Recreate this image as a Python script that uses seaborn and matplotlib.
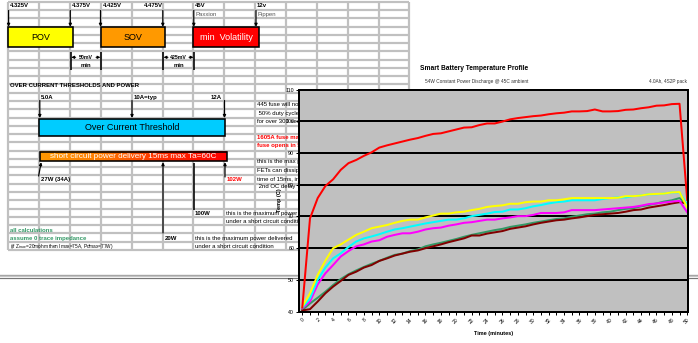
import numpy as np
import pandas as pd
import matplotlib
matplotlib.use("Agg")
import matplotlib.pyplot as plt
import seaborn as sns
from matplotlib.patches import Rectangle
from matplotlib.colors import LinearSegmentedColormap

# ---------------- data ----------------
minutes = list(range(51))
temp_red = [41.3, 69.4, 75.8, 79.6, 81.7, 84.7, 86.8, 87.8, 89.1, 90.2,
            91.7, 92.4, 93.0, 93.6, 94.2, 94.7, 95.4, 96.0, 96.2, 96.8,
            97.4, 98.0, 98.1, 98.8, 99.3, 99.3, 99.9, 100.6, 101.0, 101.3,
            101.6, 101.8, 102.2, 102.5, 102.7, 103.1, 103.1, 103.2, 103.7, 103.1,
            103.1, 103.2, 103.6, 103.7, 104.1, 104.4, 104.9, 105.0, 105.4, 105.5,
            75.2]
temp_yellow = [41.6, 45.8, 51.6, 56.1, 60.0, 61.2, 62.7, 64.2, 65.2, 66.3,
               66.8, 67.3, 68.0, 68.6, 69.0, 69.0, 69.7, 70.3, 70.9, 70.9,
               71.3, 71.5, 72.0, 72.4, 73.0, 73.3, 73.5, 74.0, 74.0, 74.5,
               74.7, 74.7, 75.1, 75.1, 75.4, 75.8, 75.8, 75.8, 75.8, 75.8,
               75.8, 75.9, 76.4, 76.4, 76.6, 77.0, 77.1, 77.2, 77.6, 77.7,
               72.8]
temp_cyan = [41.3, 44.2, 50.0, 53.9, 56.8, 58.4, 60.4, 62.1, 63.1, 63.7,
             64.4, 65.2, 65.9, 66.3, 66.8, 67.3, 67.8, 68.2, 68.6, 69.0,
             69.0, 69.4, 70.1, 70.5, 70.9, 71.4, 71.5, 72.2, 72.2, 72.6,
             73.2, 73.6, 74.1, 74.5, 74.7, 75.1, 75.1, 75.1, 75.1, 75.5,
             75.8, 76.0, 76.0, 76.4, 76.6, 77.0, 77.0, 77.2, 77.6, 77.6,
             73.6]
temp_magenta = [41.1, 43.2, 48.6, 52.1, 54.7, 57.4, 59.1, 60.6, 61.2, 62.1,
                62.5, 63.6, 64.2, 64.7, 64.7, 65.2, 65.9, 66.3, 66.5, 67.1,
                67.5, 68.0, 68.2, 68.6, 69.0, 69.0, 69.4, 69.7, 70.1, 70.1,
                70.5, 71.1, 71.1, 71.1, 71.3, 72.0, 72.0, 72.0, 72.0, 72.2,
                72.4, 72.6, 72.8, 73.0, 73.4, 73.9, 74.1, 74.4, 74.7, 74.9,
                71.3]
temp_green = [40.5, 42.6, 44.4, 46.3, 48.4, 50.3, 51.8, 53.0, 54.1, 55.1,
              56.0, 57.0, 57.9, 58.3, 59.1, 59.6, 60.6, 61.2, 61.7, 62.3,
              62.9, 63.6, 64.2, 64.7, 65.2, 65.7, 66.1, 66.7, 67.1, 67.5,
              68.0, 68.4, 68.8, 69.2, 69.4, 69.9, 70.3, 70.7, 70.9, 71.3,
              71.5, 72.0, 72.4, 72.6, 73.2, 73.6, 74.1, 74.7, 75.1, 75.8,
              73.6]
temp_maroon = [40.4, 40.8, 43.2, 45.8, 47.9, 49.7, 51.6, 52.6, 53.9, 54.7,
               56.0, 56.8, 57.7, 58.3, 58.9, 59.3, 60.0, 60.6, 61.2, 61.9,
               62.5, 63.1, 64.0, 64.0, 64.6, 65.0, 65.4, 66.1, 66.5, 66.9,
               67.5, 68.0, 68.4, 68.8, 69.0, 69.4, 69.7, 70.1, 70.5, 70.7,
               70.9, 71.1, 71.5, 72.0, 72.2, 72.8, 73.2, 73.6, 74.1, 74.5,
               74.1]
series_names = ["green", "maroon", "magenta", "cyan", "yellow", "red"]
series_colors = ["#339966", "#800000", "#ff00ff", "#00ffff", "#ffff00", "#ff0000"]
y_ticks = [40, 50, 60, 70, 80, 90, 100, 110]
x_tick_labels = [str(m) if m % 2 == 0 else "" for m in minutes]

chart_title = "Smart Battery Temperature Profile"
chart_subtitle = "54W Constant Power Discharge @ 45C ambient"
chart_pack = "4.0Ah, 4S2P pack"

# ---------------- figure ----------------
FONT = ["Liberation Sans", "DejaVu Sans"]
plt.rcParams["font.family"] = FONT
W, H = 698, 343
fig = plt.figure(figsize=(W / 100, H / 100), dpi=100)
fig.patch.set_facecolor("white")

bg = fig.add_axes([0, 0, 1, 1])
bg.set_axis_off()
PX = 0.72  # points per pixel

# spreadsheet grid
col_x = [8.3 + 30.85 * i for i in range(14)]
row_y = [1.8 + 8.27 * k for k in range(31)]
for x in col_x:
    bg.plot([x, x], [row_y[0], row_y[-1]], color="#c0c0c0", lw=2.2 * PX, zorder=1,
            solid_capstyle="butt")
for y in row_y:
    bg.plot([col_x[0], col_x[-1]], [y, y], color="#c0c0c0", lw=2.2 * PX, zorder=1,
            solid_capstyle="butt")

def rc(k):
    return 5.9 + 8.27 * k

def t(x, y, s, size=4.4, weight="normal", color="black", ha="left"):
    bg.text(x, y, s, fontsize=size, fontweight=weight, color=color, ha=ha,
            va="center", zorder=5)

def arrow(x0, y0, x1, y1, lw=1.2):
    bg.annotate("", xy=(x1, y1), xytext=(x0, y0),
                arrowprops=dict(arrowstyle="-|>", color="black", lw=lw * PX,
                                mutation_scale=4, shrinkA=0, shrinkB=0), zorder=6)

def vline(x, y0, y1, lw=1.6):
    bg.plot([x, x], [y0, y1], color="black", lw=lw * PX, zorder=6, solid_capstyle="butt")

# top voltage labels
t(9.5, rc(0), "4.325V", 4.3, "bold")
t(71.5, rc(0), "4.375V", 4.3, "bold")
t(102.5, rc(0), "4.425V", 4.3, "bold")
t(162.5, rc(0), "4.475V", 4.3, "bold", ha="right")
t(195.0, rc(0), "45V", 4.3, "bold")
t(257.0, rc(0), "12v", 4.3, "bold")
t(195.0, rc(1), "Paxxion", 4.3, color="#555555")
t(257.0, rc(1), "Pippen", 4.3, color="#555555")
for x in [8.6, 70.3, 100.5, 162.8, 193.8, 256.0]:
    arrow(x, 10.5, x, 26.8)

# boxes
def box(x0, x1, y0, y1, fc, label, tc="black", size=6.5):
    bg.add_patch(Rectangle((x0, y0), x1 - x0, y1 - y0, facecolor=fc, edgecolor="black",
                           lw=1.6 * PX, zorder=4))
    bg.text((x0 + x1) / 2, (y0 + y1) / 2 + 0.5, label, fontsize=size, color=tc,
            ha="center", va="center", zorder=5)

box(8.3, 72.7, 27.3, 46.7, "#ffff00", "POV")
box(101.0, 165.0, 27.3, 46.7, "#ff9900", "SOV")
box(193.3, 258.7, 27.3, 46.7, "#ff0000", "min  Volatility", tc="white")

# measurement arrows
for xa, xb, lab in [(70.7, 101.0, "50mV"), (163.0, 194.0, "425mV")]:
    vline(xa, 51.5, 70.0)
    vline(xb, 51.5, 70.0)
    arrow(xa + 5, 57.3, xa + 0.6, 57.3, lw=1.0)
    arrow(xb - 5, 57.3, xb - 0.6, 57.3, lw=1.0)
    t((xa + xb) / 2, 57.3, lab, 3.7, "bold", ha="center")
    t((xa + xb) / 2, 65.7, "min", 4.3, "bold", ha="center")

t(9.5, rc(9.6), "OVER CURRENT THRESHOLDS AND POWER", 4.3, "bold")
t(40.5, rc(11.1), "5.0A", 4.3, "bold")
t(134.0, rc(11.1), "10A=typ", 4.3, "bold")
t(222.0, rc(11.1), "12A", 4.3, "bold", ha="right")
for x in [39.8, 132.0, 224.5]:
    arrow(x, 100.5, x, 118.0)

box(39.3, 225.0, 119.3, 135.7, "#00ccff", "Over Current Threshold")

# short-circuit gradient box
grad_cmap = LinearSegmentedColormap.from_list("g", ["#ff9900", "#ff7a00", "#ff2a00", "#ff0000"])
bg.imshow(np.linspace(0, 1, 256).reshape(1, -1), cmap=grad_cmap, aspect="auto",
          extent=(40.0, 226.7, 161.0, 151.7), zorder=4)
bg.add_patch(Rectangle((40.0, 151.7), 186.7, 9.3, facecolor="none", edgecolor="black",
                       lw=1.6 * PX, zorder=4.5))
bg.text(133.3, 156.6, "short circuit power delivery 15ms max Ta=60C", fontsize=5.9,
        color="white", ha="center", va="center", zorder=5)

arrow(38.6, 176.0, 41.2, 162.2)
arrow(163.0, 233.0, 163.0, 162.2)
vline(193.5, 162.5, 210.0)
arrow(225.0, 177.0, 225.0, 162.2)

t(40.8, 179.3, "27W (34A)", 4.3, "bold")
t(226.5, 179.3, "102W", 4.3, "bold", color="#ff0000")
t(195.0, 213.3, "100W", 4.3, "bold")
t(226.5, 213.3, "this is the maximum power delivered", 4.3)
t(226.5, 221.6, "under a short circuit condition", 4.3)
t(9.5, 230.0, "all calculations", 4.3, "bold", color="#339966")
t(9.5, 238.3, "assume 0 trace impedance", 4.3, "bold", color="#339966")
t(9.5, 246.2, r"(if Z$_{\mathregular{trace}}$=20mohm then Imax=75A, Pdmax=77W)", 3.4)
t(164.5, 238.3, "20W", 4.3, "bold")
t(195.0, 238.3, "this is the maximum power delivered", 4.3)
t(195.0, 246.2, "under a short circuit condition", 4.3)

# right column notes (partly hidden by the chart)
t(257.0, 105.0, "445 fuse will not blow", 4.3)
t(257.0, 113.2, " 50% duty cycle", 4.3)
t(257.0, 121.4, "for over 300 seconds", 4.3)
t(257.0, 137.2, "1605A fuse max", 4.3, "bold", color="#ff0000")
t(257.0, 145.5, "fuse opens in 5 seconds", 4.3, "bold", color="#ff0000")
t(257.0, 162.0, "this is the max power", 4.3)
t(257.0, 170.2, "FETs can dissipate", 4.3)
t(257.0, 178.5, "time of 15ms, in", 4.3)
t(257.0, 186.7, " 2nd OC delay", 4.3)

# page-break line
for seg in [(0, 299), (688, 698)]:
    bg.plot(seg, [274.6, 274.6], color="#555555", lw=1.2 * PX, zorder=2)
    bg.plot(seg, [276.4, 276.4], color="#bbbbbb", lw=1.6 * PX, zorder=2)
    bg.plot(seg, [278.0, 278.0], color="#777777", lw=1.2 * PX, zorder=2)

# chart titles
t(420.0, 68.0, chart_title, 4.8, "bold")
t(425.0, 81.7, chart_subtitle, 3.4, color="#333333")
t(687.0, 81.7, chart_pack, 3.4, color="#333333", ha="right")

bg.set_xlim(0, W)
bg.set_ylim(H, 0)

# ---------------- chart ----------------
L, R, T, B = 299.3, 688.0, 89.5, 311.7
ax = fig.add_axes([L / W, (H - B) / H, (R - L) / W, (B - T) / H])
ax.set_facecolor("#c0c0c0")

series_values = [temp_green, temp_maroon, temp_magenta, temp_cyan, temp_yellow, temp_red]
df = pd.concat([pd.DataFrame({"minute": minutes, "temp": v, "series": n})
                for n, v in zip(series_names, series_values)], ignore_index=True)
sns.lineplot(data=df, x="minute", y="temp", hue="series", hue_order=series_names,
             palette=dict(zip(series_names, series_colors)), linewidth=2.0 * PX,
             legend=False, ax=ax, errorbar=None)

ax.set_xlim(-0.39, 50.1)
ax.set_ylim(40, 110)
ax.set_yticks(y_ticks)
ax.set_yticklabels([str(v) for v in y_ticks], fontsize=3.8)
ax.set_xticks(minutes)
ax.set_xticklabels(x_tick_labels, fontsize=3.6, rotation=45, ha="right",
                   rotation_mode="anchor")
ax.tick_params(axis="both", length=2.2, width=1.0 * PX, pad=1.5, color="black")
ax.grid(axis="y", color="black", lw=2.0 * PX)
ax.grid(axis="x", visible=False)
ax.set_axisbelow(True)
for s in ax.spines.values():
    s.set_color("black")
    s.set_linewidth(2.0 * PX)
ax.set_xlabel("Time (minutes)", fontsize=4.0, fontweight="bold")
ax.set_ylabel("Temp (C)", fontsize=4.0, fontweight="bold")
ax.xaxis.set_label_coords(0.5, -(333.0 - B) / (B - T))
ax.xaxis.label.set_va("center")
ax.yaxis.set_label_coords(-(L - 279.0) / (R - L), 0.5)
ax.yaxis.label.set_va("center")

fig.savefig("out.png", dpi=100)
